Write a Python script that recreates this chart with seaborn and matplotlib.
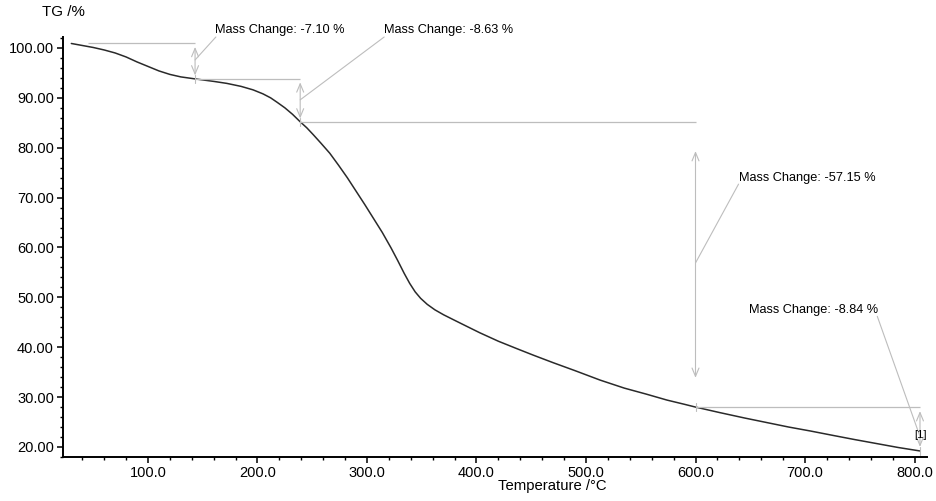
import numpy as np
import matplotlib
matplotlib.use("Agg")
import matplotlib.pyplot as plt
from matplotlib.ticker import MultipleLocator, FormatStrFormatter
from matplotlib.patches import ArrowStyle
import seaborn as sns

# Thermogravimetric curve: sample temperature (°C) and residual mass (%)
temperature = [30, 40, 50, 60, 70, 80, 90, 100, 110, 120, 130, 143, 160, 172,
               185, 196, 205, 212, 218, 225, 232, 239, 245, 251, 258, 266, 274,
               282, 290, 298, 306, 314, 322, 328, 334, 339, 344, 349, 355, 362,
               370, 380, 391, 403, 420, 437, 452, 470, 490, 513, 535, 555, 574,
               590, 600, 622, 645, 665, 685, 705, 726, 745, 765, 785, 805]
tg_percent = [100.9, 100.5, 100.1, 99.6, 99.0, 98.2, 97.2, 96.3, 95.4, 94.7,
              94.2, 93.8, 93.3, 92.9, 92.3, 91.6, 90.8, 90.0, 89.1, 88.0, 86.7,
              85.2, 84.0, 82.6, 80.9, 78.9, 76.5, 74.0, 71.3, 68.6, 65.8, 63.0,
              59.9, 57.4, 54.8, 52.8, 51.1, 49.8, 48.6, 47.5, 46.5, 45.4, 44.2,
              42.9, 41.2, 39.7, 38.4, 36.9, 35.3, 33.4, 31.8, 30.6, 29.4, 28.55,
              28.0, 26.9, 25.8, 24.9, 24.0, 23.2, 22.3, 21.5, 20.7, 19.9, 19.2]

# Mass-loss steps evaluated between these temperatures
step_temps = [45, 143, 239, 600, 805]
start_level = 100.9
mass_changes = [-7.10, -8.63, -57.15, -8.84]

x_label = "Temperature /°C"
y_label = "TG /%"

sns.set_theme(style="ticks")
plt.rcParams["font.family"] = ["Liberation Sans", "DejaVu Sans"]

levels = [start_level]
for c in mass_changes:
    levels.append(levels[-1] + c)

fig = plt.figure(figsize=(9.36, 5.01), dpi=100)
ax = fig.add_axes([63 / 936, 1 - 457 / 501, (927 - 63) / 936, (457 - 37) / 501])

sns.lineplot(x=temperature, y=tg_percent, ax=ax, color="#2a2a2a",
             linewidth=1.1, sort=False, estimator=None)

ax.set_xlim(22.4, 811.4)
ax.set_ylim(17.99, 102.2)

sns.despine(ax=ax)
for side in ("left", "bottom"):
    ax.spines[side].set_color("black")
    ax.spines[side].set_linewidth(1.4)

ax.xaxis.set_major_locator(MultipleLocator(100))
ax.xaxis.set_minor_locator(MultipleLocator(20))
ax.yaxis.set_major_locator(MultipleLocator(10))
ax.yaxis.set_minor_locator(MultipleLocator(2))
ax.xaxis.set_major_formatter(FormatStrFormatter("%.1f"))
ax.yaxis.set_major_formatter(FormatStrFormatter("%.2f"))
ax.tick_params(which="major", direction="out", length=4, width=1.1,
               labelsize=10.5, pad=2.5, colors="black")
ax.tick_params(which="minor", direction="out", length=2.2, width=1.0,
               colors="black")

ax.set_xlabel(x_label, fontsize=10.7, color="black", ha="center", va="center")
ax.xaxis.set_label_coords(0.566, -0.069)
ax.set_ylabel(y_label, fontsize=10.9, color="black", rotation=0,
              ha="center", va="center")
ax.yaxis.set_label_coords(0.0006, 1.06)

# Step evaluation: baselines, double arrows and leader lines to the labels
guide = "#bdbdbd"
arrow_style = ArrowStyle("<->", head_length=0.6, head_width=0.25)
arrow_shrink = [2.5, 2.5, 21.0, 3.0]
anchor_levels = [97.6, 89.6, 56.9, 22.1]
label_pos = [(161.2, 103.6), (315.7, 103.6), (639.3, 73.9), (648.4, 47.5)]
leader_end = [(162.0, 102.2), (315.7, 102.2), (639.3, 72.7), (766.0, 46.2)]

for i, change in enumerate(mass_changes):
    t0, t1 = step_temps[i], step_temps[i + 1]
    hi, lo = levels[i], levels[i + 1]
    ax.plot([t0, t1], [hi, hi], color=guide, lw=0.9, solid_capstyle="butt")
    ax.annotate("", xy=(t1, lo), xytext=(t1, hi),
                arrowprops=dict(arrowstyle=arrow_style, color=guide, lw=0.8,
                                shrinkA=arrow_shrink[i], shrinkB=arrow_shrink[i],
                                mutation_scale=10))
    ax.plot([t1, t1], [lo + 0.8, lo - 0.8], color=guide, lw=0.8)
    ax.plot([t1, leader_end[i][0]], [anchor_levels[i], leader_end[i][1]],
            color=guide, lw=0.8, clip_on=False)
    ax.text(label_pos[i][0], label_pos[i][1], f"Mass Change: {change:.2f} %",
            fontsize=9.2, color="black", ha="left", va="center", clip_on=False)

# segment marker at the end of the evaluated range
ax.text(step_temps[-1] + 0.5, levels[-1] + 3.2, "[1]", fontsize=8, color="black",
        ha="center", va="center")

fig.savefig("out.png", dpi=100, facecolor="white")
